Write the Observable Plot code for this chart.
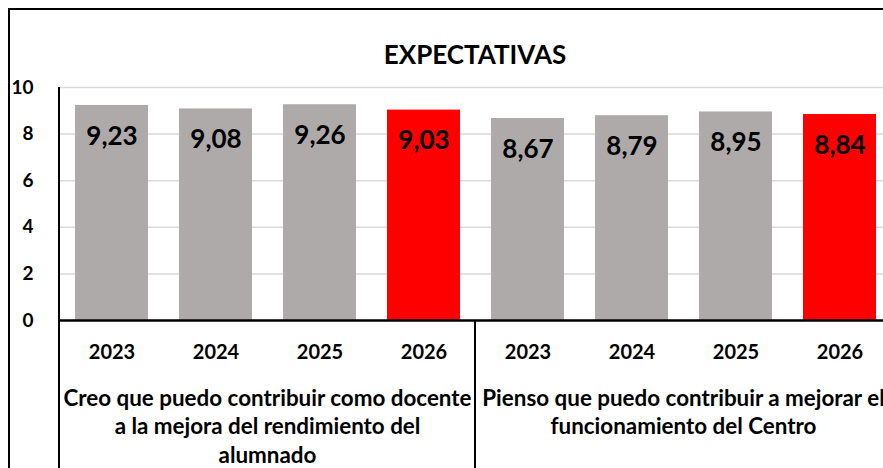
<!DOCTYPE html>
<html><head><meta charset="utf-8">
<script src="https://cdn.jsdelivr.net/npm/d3@7"></script>
<script src="https://cdn.jsdelivr.net/npm/@observablehq/plot@0.6"></script>
<style>
body{margin:0;background:#fff;font-family:Lato,sans-serif}
#wrap{position:relative;width:883px;height:468px;overflow:hidden;background:#fff}
#chart{position:absolute;left:0;top:0;width:891px}
#chart svg{max-width:none !important}
#chart svg text{font-weight:bold}
#frame{position:absolute;left:8px;top:8px;width:920px;height:520px;border-left:2px solid #000;border-top:2px solid #000;box-sizing:border-box;pointer-events:none}
#title{position:absolute;left:0;width:950px;top:38px;text-align:center;font:bold 26px Lato,sans-serif;color:#000}
</style></head><body>
<div id="wrap"><div id="chart"></div><div id="frame"></div><div id="title">EXPECTATIVAS</div></div>
<script>
const groupKeys = ["A", "B"];
const groupLabels = [
  "Creo que puedo contribuir como docente\na la mejora del rendimiento del\nalumnado",
  "Pienso que puedo contribuir a mejorar el\nfuncionamiento del Centro"
];
const years = ["2023", "2024", "2025", "2026"];
const valuesA = [9.23, 9.08, 9.26, 9.03];
const valuesB = [8.67, 8.79, 8.95, 8.84];
const highlightYear = "2026";
const yTicks = [0, 2, 4, 6, 8, 10];

const data = [];
years.forEach((y, i) => data.push({group: "A", year: y, value: valuesA[i]}));
years.forEach((y, i) => data.push({group: "B", year: y, value: valuesB[i]}));
const groupData = groupKeys.map((g, i) => ({group: g, label: groupLabels[i]}));

const W = 891, H = 468, mL = 59, mT = 87, mB = 148;
const chart = Plot.plot({
  width: W, height: H,
  marginLeft: mL, marginRight: 0, marginTop: mT, marginBottom: mB,
  style: {fontFamily: "Lato, sans-serif", background: "white", overflow: "visible", fontWeight: "bold", maxWidth: "none"},
  fx: {domain: groupKeys, padding: 0, axis: null},
  x: {domain: years, paddingInner: 0.3, paddingOuter: 0.15, label: null},
  y: {domain: [0, 10], label: null},
  marks: [
    Plot.ruleY(yTicks.filter(d => d > 0), {stroke: "#d9d9d9", strokeWidth: 1.5}),
    Plot.barY(data, {fx: "group", x: "year", y: "value",
      fill: d => d.year === highlightYear ? "#ff0000" : "#aeaaaa"}),
    Plot.text(data, {fx: "group", x: "year", y: "value", dy: 31,
      text: d => d.value.toFixed(2).replace(".", ","),
      fontSize: 26, fontWeight: "bold", fill: "#000"}),
    Plot.ruleY([0], {stroke: "#000", strokeWidth: 2.5}),
    Plot.axisX({tickSize: 0, tickPadding: 24, fontSize: 20, fontWeight: "bold", color: "#000", label: null}),
    Plot.axisY({ticks: yTicks, tickSize: 0, tickPadding: 26, fontSize: 19, fontWeight: "bold", color: "#000", label: null}),
    Plot.text(groupData, {fx: "group", frameAnchor: "bottom", dy: 65, lineAnchor: "top",
      lineHeight: 1.27, text: "label", fontSize: 22.4, fontWeight: "bold", fill: "#000"})
  ]
});

// separators (group boundaries) using the fx scale
const fx = chart.scale("fx");
const svg = d3.select(chart);
groupKeys.forEach((g, i) => {
  const x = fx.apply(g);
  svg.append("line")
    .attr("x1", x).attr("x2", x)
    .attr("y1", i === 0 ? mT : H - mB).attr("y2", H)
    .attr("stroke", "#000").attr("stroke-width", 2);
});
document.getElementById("chart").appendChild(chart);
</script>
</body></html>
